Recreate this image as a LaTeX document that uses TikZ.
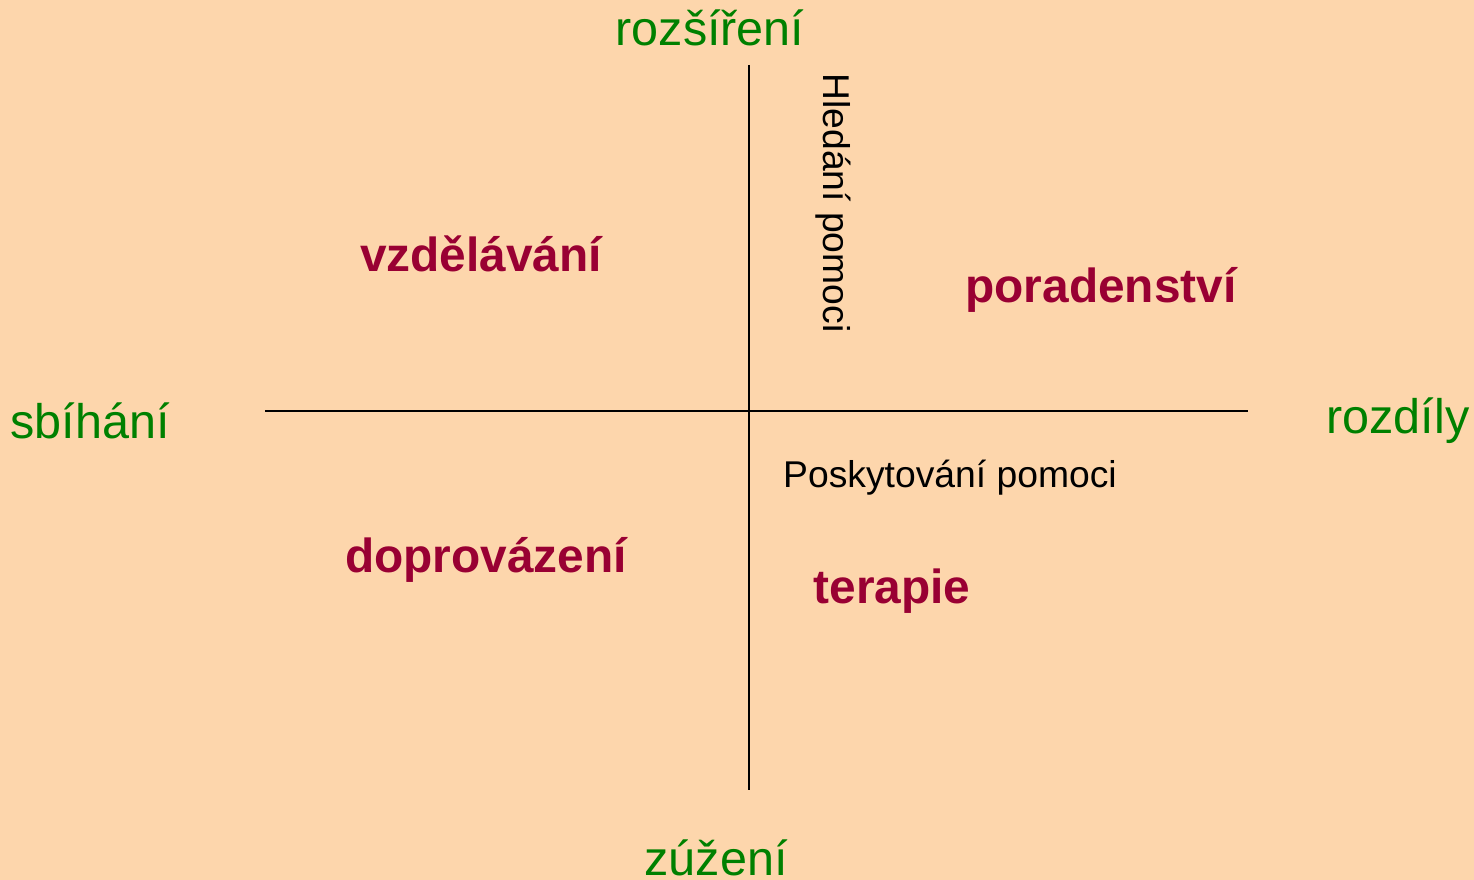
\documentclass[tikz,border=0pt]{standalone}
\usepackage{fontspec}
\setmainfont{Liberation Sans}
\usepackage{tikz}
\usetikzlibrary{positioning}
\definecolor{peach}{RGB}{253,214,172}
\definecolor{axisgreen}{RGB}{0,128,0}
\definecolor{wine}{RGB}{153,0,51}
\tikzset{pole node/.style={text=axisgreen,font=\fontsize{13.8}{16}\selectfont,inner sep=0pt},
  field node/.style={text=wine,font=\fontsize{13.6}{16}\selectfont\bfseries,inner sep=0pt},
  note node/.style={text=black,font=\fontsize{10.6}{13}\selectfont,inner sep=0pt},}

\begin{document}
\begin{tikzpicture}[x=0.01cm,y=-0.01cm]
    \fill[peach] (0,0) rectangle (1474,880);

    \coordinate (top) at (749,65);
    \coordinate (bottom) at (749,790);
    \coordinate (left) at (265,411);
    \coordinate (right) at (1248,411);

    \node[pole node] (up) at (710,28) {rozšíření};
    \node[pole node] (down) at (716,858) {zúžení};
    \node[pole node] (west) at (90,421) {sbíhání};
    \node[pole node] (east) at (1398,421) {rozdíly};

    \node[field node] (1) at (481,254) {vzdělávání};
    \node[field node] (2) at (1101,290) {poradenství};
    \node[field node] (3) at (486,560) {doprovázení};
    \node[field node] (4) at (892,591) {terapie};

    \node[note node] (give) at (950,478) {Poskytování pomoci};
    \node[note node,rotate=-90] (seek) at (833,203) {Hledání pomoci};

    \path[draw,line width=0.45pt]
    (top) -- (bottom)
    (left) -- (right)
    ;
\end{tikzpicture}
\end{document}
